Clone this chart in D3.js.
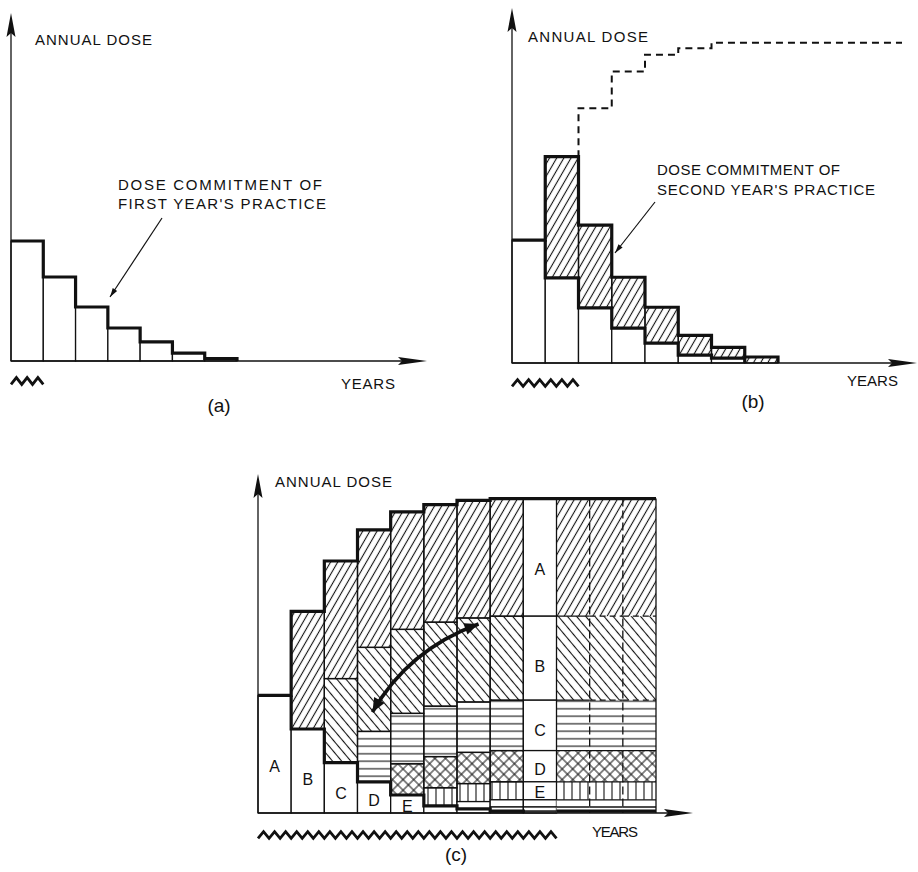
<!DOCTYPE html>
<html>
<head>
<meta charset="utf-8">
<script src="https://cdn.jsdelivr.net/npm/d3@7"></script>
<style>
body { margin: 0; background: #fff; }
svg text { font-family: "Liberation Sans", Arial, sans-serif; fill: #111; }
</style>
</head>
<body>
<div id="chart"></div>
<script>
// annual dose per year after the practice, arbitrary units (first year ~ 100)
var firstYearDoseA = [100, 70, 45, 27.5, 16, 6.5, 2];

var firstYearDoseB = [102.5, 71, 46, 29, 16.5, 6.5, 4];
var secondYearDoseB = [101, 69, 42.5, 30, 16.5, 9, 5];
// total dose if practice goes on, years 2 .. 7+
var continuedTotalB = [171.5, 212.5, 243, 257, 262.5, 267];

// dose by age of the practice (age 1 = same year)
var doseByAgeC = [98, 70, 42, 26, 15, 6, 3.5, 1.5];
var ageLabels = ["A", "B", "C", "D", "E"];
var yearsC = 12;
var labelColumnC = 9;

var practiceYearsA = 1, practiceYearsB = 2, practiceYearsC = 9;

var ink = "#111";
var thin = 1.3, thick = 3.2;

var svg = d3.select("#chart").append("svg")
  .attr("width", 918)
  .attr("height", 872);

var defs = svg.append("defs");

function hatch(id, angle, spacing) {
  defs.append("pattern")
    .attr("id", id)
    .attr("patternUnits", "userSpaceOnUse")
    .attr("width", spacing)
    .attr("height", spacing)
    .attr("patternTransform", "rotate(" + angle + ")")
    .append("line")
    .attr("x1", spacing / 2).attr("y1", 0)
    .attr("x2", spacing / 2).attr("y2", spacing)
    .attr("stroke", ink).attr("stroke-width", 1.1);
}
hatch("fwd", 30, 6.2);
hatch("back", -40, 7);
hatch("horiz", 90, 7.5);
hatch("vert", 0, 8);
var cross = defs.append("pattern")
  .attr("id", "cross")
  .attr("patternUnits", "userSpaceOnUse")
  .attr("width", 7.5).attr("height", 7.5)
  .attr("patternTransform", "rotate(45)");
cross.append("line").attr("x1", 3.75).attr("y1", 0).attr("x2", 3.75).attr("y2", 7.5)
  .attr("stroke", ink).attr("stroke-width", 1);
cross.append("line").attr("x1", 0).attr("y1", 3.75).attr("x2", 7.5).attr("y2", 3.75)
  .attr("stroke", ink).attr("stroke-width", 1);

var agePattern = ["url(#fwd)", "url(#back)", "url(#horiz)", "url(#cross)", "url(#vert)"];

// ---------- helpers ----------
function axes(x0, y0, xEnd, yTop) {
  svg.append("line").attr("x1", x0).attr("y1", y0).attr("x2", xEnd - 20).attr("y2", y0)
    .attr("stroke", ink).attr("stroke-width", thin);
  svg.append("line").attr("x1", x0).attr("y1", y0).attr("x2", x0).attr("y2", yTop + 15)
    .attr("stroke", ink).attr("stroke-width", thin);
  svg.append("path")
    .attr("d", `M${xEnd},${y0} L${xEnd - 29},${y0 - 4} L${xEnd - 25},${y0} L${xEnd - 29},${y0 + 4} Z`)
    .attr("fill", ink);
  svg.append("path")
    .attr("d", `M${x0},${yTop} L${x0 - 4.5},${yTop + 24} L${x0},${yTop + 20} L${x0 + 4.5},${yTop + 24} Z`)
    .attr("fill", ink);
}

function zigzag(x0, x1, y, teeth) {
  var pts = d3.range(2 * teeth + 1).map(i => [x0 + (x1 - x0) * i / (2 * teeth), i % 2 ? y - 3.4 : y + 3.4]);
  svg.append("path")
    .attr("d", d3.line()(pts))
    .attr("fill", "none").attr("stroke", ink)
    .attr("stroke-width", 2.8).attr("stroke-linejoin", "miter");
}

function label(x, y, str, len, size) {
  var t = svg.append("text")
    .attr("x", x).attr("y", y)
    .style("font-size", size + "px")
    .text(str);
  if (len) t.attr("textLength", len).attr("lengthAdjust", "spacing");
  return t;
}

function headAt(x, y, dx, dy, len, half) {
  var n = Math.sqrt(dx * dx + dy * dy);
  var ux = dx / n, uy = dy / n;
  var bx = x - ux * len, by = y - uy * len;
  return `M${x},${y} L${bx - uy * half},${by + ux * half} L${bx + uy * half},${by - ux * half} Z`;
}

function leader(x1, y1, x2, y2) {
  svg.append("line").attr("x1", x1).attr("y1", y1).attr("x2", x2).attr("y2", y2)
    .attr("stroke", ink).attr("stroke-width", 1.2);
  svg.append("path").attr("d", headAt(x2, y2, x2 - x1, y2 - y1, 9, 2.6)).attr("fill", ink);
}

var stepLine = d3.line().curve(d3.curveStepAfter);

// ---------- panel (a) ----------
var xa = d3.scaleLinear().domain([0, firstYearDoseA.length]).range([11, 237]);
var ya = d3.scaleLinear().domain([0, 290]).range([361, 13]);

svg.append("g").selectAll("rect")
  .data(firstYearDoseA)
  .enter().append("rect")
  .attr("x", (d, i) => xa(i))
  .attr("y", d => ya(d))
  .attr("width", (d, i) => xa(i + 1) - xa(i))
  .attr("height", d => ya(0) - ya(d))
  .attr("fill", "#fff")
  .attr("stroke", ink).attr("stroke-width", thin);

var nA = firstYearDoseA.length;
var ptsA = firstYearDoseA.map((d, i) => [xa(i), ya(d)])
  .concat([[xa(nA), ya(firstYearDoseA[nA - 1])], [xa(nA), ya(0)]]);
svg.append("path").attr("d", stepLine(ptsA))
  .attr("fill", "none").attr("stroke", ink).attr("stroke-width", thick);

axes(xa(0), ya(0), 427, ya.range()[1]);
zigzag(xa(0), xa(practiceYearsA), 381, 3 * practiceYearsA);

label(35, 45, "ANNUAL DOSE", 117, 15);
label(118, 190, "DOSE  COMMITMENT OF", 204, 15);
label(118, 209, "FIRST YEAR'S PRACTICE", 208, 15);
leader(162, 218, 110, 297);
label(341, 389, "YEARS", 54, 15);
label(219, 412, "(a)", null, 19).attr("text-anchor", "middle");

// ---------- panel (b) ----------
var xb = d3.scaleLinear().domain([0, 8]).range([512, 778]);
var yb = d3.scaleLinear().domain([0, 296]).range([363, 8]);

var rowsB = d3.range(8).map(c => ({
  col: c,
  first: c < firstYearDoseB.length ? firstYearDoseB[c] : 0,
  second: c >= 1 ? secondYearDoseB[c - 1] : 0
}));
var stackB = d3.stack().keys(["first", "second"])(rowsB);

svg.append("g").selectAll("g")
  .data(stackB)
  .enter().append("g")
  .attr("fill", d => d.key === "first" ? "#fff" : "url(#fwd)")
  .selectAll("rect")
  .data(d => d.filter(p => p[1] - p[0] > 0))
  .enter().append("rect")
  .attr("x", d => xb(d.data.col))
  .attr("y", d => yb(d[1]))
  .attr("width", d => xb(d.data.col + 1) - xb(d.data.col))
  .attr("height", d => yb(d[0]) - yb(d[1]))
  .attr("stroke", ink).attr("stroke-width", thin);

var totB = stackB[1];
var ptsTopB = totB.map(d => [xb(d.data.col), yb(d[1])])
  .concat([[xb(8), yb(totB[7][1])], [xb(8), yb(0)]]);
svg.append("path").attr("d", stepLine(ptsTopB))
  .attr("fill", "none").attr("stroke", ink).attr("stroke-width", thick);

var nB = firstYearDoseB.length;
var ptsLowB = [[xb(1), yb(firstYearDoseB[0])]]
  .concat(firstYearDoseB.slice(1).map((d, i) => [xb(i + 1), yb(d)]))
  .concat([[xb(nB), yb(firstYearDoseB[nB - 1])], [xb(nB), yb(0)]]);
svg.append("path").attr("d", stepLine(ptsLowB))
  .attr("fill", "none").attr("stroke", ink).attr("stroke-width", thick);

var dashD = "M" + xb(2) + "," + yb(continuedTotalB[0]);
for (var i = 1; i < continuedTotalB.length; i++) {
  dashD += "V" + yb(continuedTotalB[i]) + "H" + (i < continuedTotalB.length - 1 ? xb(i + 2) : 902);
}
svg.append("path").attr("d", dashD)
  .attr("fill", "none").attr("stroke", ink).attr("stroke-width", 2)
  .attr("stroke-dasharray", "7,5");

axes(xb(0), yb(0), 917, yb.range()[1]);
zigzag(xb(0), xb(practiceYearsB), 383, 3 * practiceYearsB);

label(528, 42, "ANNUAL DOSE", 120, 15);
label(657, 175, "DOSE  COMMITMENT OF", 183, 15);
label(657, 195, "SECOND YEAR'S PRACTICE", 218, 15);
leader(655, 202, 615, 253);
label(847, 386, "YEARS", 51, 15);
label(753, 408, "(b)", null, 19).attr("text-anchor", "middle");

// ---------- panel (c) ----------
var xc = d3.scaleLinear().domain([0, yearsC]).range([258, 656]);
var yc = d3.scaleLinear().domain([0, 282.5]).range([813, 474]);

var ageKeys = doseByAgeC.map((d, j) => "age" + (j + 1));
var rowsC = d3.range(1, yearsC + 1).map(k => {
  var row = {col: k};
  doseByAgeC.forEach((d, j) => { row[ageKeys[j]] = j + 1 <= k ? d : 0; });
  return row;
});
// oldest practice at the bottom of each column
var stackC = d3.stack().keys(ageKeys).order(d3.stackOrderReverse)(rowsC);

var cells = [];
stackC.forEach(s => {
  var age = ageKeys.indexOf(s.key) + 1;
  s.forEach(p => {
    if (p[1] - p[0] > 0) cells.push({age: age, col: p.data.col, y0: p[0], y1: p[1]});
  });
});

function cellFill(c) {
  if (c.col === labelColumnC || c.age === c.col || c.age > agePattern.length) return "#fff";
  return agePattern[c.age - 1];
}

svg.append("g").selectAll("rect")
  .data(cells)
  .enter().append("rect")
  .attr("x", d => xc(d.col - 1))
  .attr("y", d => yc(d.y1))
  .attr("width", d => xc(d.col) - xc(d.col - 1))
  .attr("height", d => yc(d.y0) - yc(d.y1))
  .attr("fill", cellFill)
  .attr("stroke", d => d.col <= labelColumnC ? ink : "none")
  .attr("stroke-width", thin);

// columns after the labelled one: continuing years, partly dashed lines
var contCells = cells.filter(d => d.col > labelColumnC);
svg.append("g").selectAll("line")
  .data(contCells)
  .enter().append("line")
  .attr("x1", d => xc(d.col - 1)).attr("x2", d => xc(d.col))
  .attr("y1", d => yc(d.y1)).attr("y2", d => yc(d.y1))
  .attr("stroke", ink).attr("stroke-width", thin)
  .attr("stroke-dasharray", d => d.col > labelColumnC + 1 && (d.age === 2 || d.age === 3) ? "6,4" : null);
svg.append("g").selectAll("line")
  .data(d3.range(labelColumnC + 2, yearsC + 1))
  .enter().append("line")
  .attr("x1", d => xc(d - 1)).attr("x2", d => xc(d - 1))
  .attr("y1", yc(d3.sum(doseByAgeC))).attr("y2", yc(0))
  .attr("stroke", ink).attr("stroke-width", thin)
  .attr("stroke-dasharray", "8,4");
svg.append("line")
  .attr("x1", xc(yearsC)).attr("x2", xc(yearsC))
  .attr("y1", yc(d3.sum(doseByAgeC))).attr("y2", yc(0))
  .attr("stroke", ink).attr("stroke-width", thin);

// thick outline of the total
var topAge = stackC[0];
var topC = rowsC.map((r, i) => [xc(i), yc(topAge[i][1])]);
topC.push([xc(yearsC), yc(topAge[yearsC - 1][1])]);
svg.append("path").attr("d", stepLine(topC))
  .attr("fill", "none").attr("stroke", ink).attr("stroke-width", thick);

// thick outline of the first year's practice
var nC = doseByAgeC.length;
var firstC = [[xc(1), yc(doseByAgeC[0])]]
  .concat(doseByAgeC.slice(1).map((d, i) => [xc(i + 1), yc(d)]))
  .concat([[xc(nC), yc(doseByAgeC[nC - 1])], [xc(nC), yc(0)]]);
svg.append("path").attr("d", stepLine(firstC))
  .attr("fill", "none").attr("stroke", ink).attr("stroke-width", thick);
svg.append("line")
  .attr("x1", xc(labelColumnC)).attr("x2", xc(yearsC))
  .attr("y1", yc(doseByAgeC[nC - 1])).attr("y2", yc(doseByAgeC[nC - 1]))
  .attr("stroke", ink).attr("stroke-width", thick);

// letters A-E
var letterCells = cells.filter(d => d.age <= ageLabels.length &&
  (d.age === d.col || d.col === labelColumnC));
svg.append("g").selectAll("text")
  .data(letterCells)
  .enter().append("text")
  .attr("x", d => (xc(d.col - 1) + xc(d.col)) / 2)
  .attr("y", d => yc(d.y1) + 0.6 * (yc(d.y0) - yc(d.y1)))
  .attr("dy", "0.36em")
  .attr("text-anchor", "middle")
  .style("font-size", "16px")
  .text(d => ageLabels[d.age - 1]);

// curved double arrow
var pA = [xc(3.45), yc(84)], pC = [xc(4.52), yc(136)], pB = [xc(6.65), yc(157.5)];
svg.append("path")
  .attr("d", `M${pA[0]},${pA[1]} Q${pC[0]},${pC[1]} ${pB[0]},${pB[1]}`)
  .attr("fill", "none").attr("stroke", ink).attr("stroke-width", 3.6);
svg.append("path").attr("d", headAt(pA[0], pA[1], pA[0] - pC[0], pA[1] - pC[1], 14, 6)).attr("fill", ink);
svg.append("path").attr("d", headAt(pB[0], pB[1], pB[0] - pC[0], pB[1] - pC[1], 14, 6)).attr("fill", ink);

axes(xc(0), yc(0), 693, yc.range()[1]);
zigzag(xc(0), xc(practiceYearsC), 835, 3 * practiceYearsC);

label(275, 487, "ANNUAL DOSE", 117, 15);
label(592, 837, "YEARS", 46, 15);
label(456, 861, "(c)", null, 19).attr("text-anchor", "middle");
</script>
</body>
</html>
